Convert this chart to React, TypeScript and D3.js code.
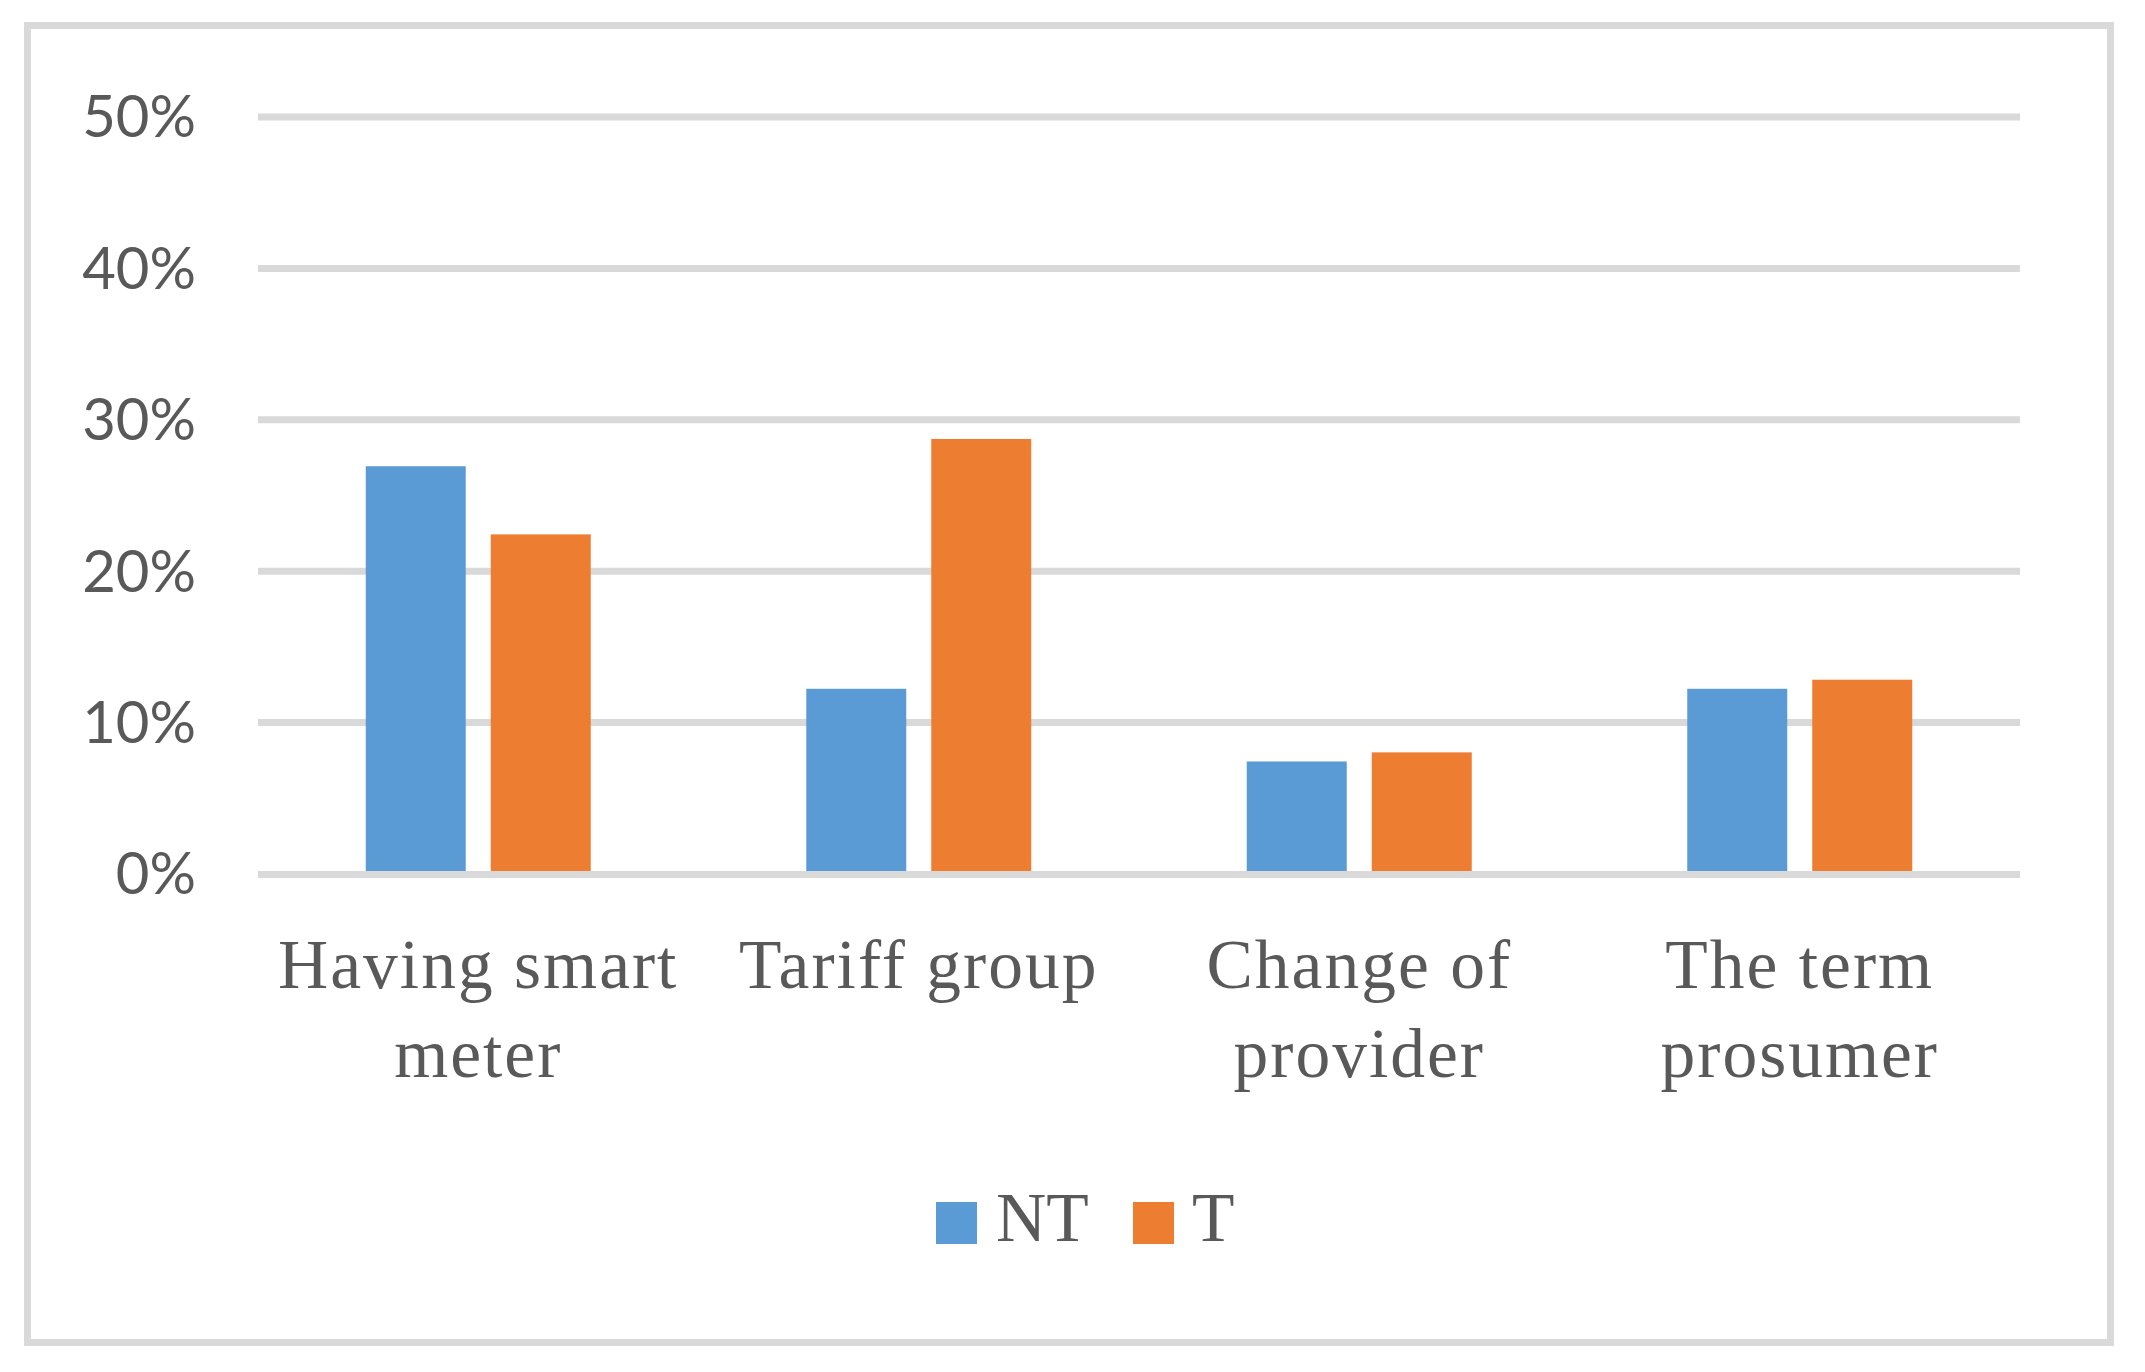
import { useRef, useEffect } from 'react';
import * as d3 from 'd3';

const categories = ['Having smart meter', 'Tariff group', 'Change of provider', 'The term prosumer'];
const categoryLines = [['Having smart', 'meter'], ['Tariff group'], ['Change of', 'provider'], ['The term', 'prosumer']];
const seriesNames = ['NT', 'T'];
const ntValues = [26.9, 12.2, 7.4, 12.2];
const tValues = [22.4, 28.7, 8.0, 12.8];
const yTicks = [0, 10, 20, 30, 40, 50];
const colors = ['#5b9bd5', '#ed7d31'];

const WIDTH = 2145;
const HEIGHT = 1372;

export default function App() {
  const svgRef = useRef<SVGSVGElement>(null);

  useEffect(() => {
    if (!svgRef.current) return;
    const svg = d3.select(svgRef.current);
    svg.selectAll('*').remove();

    const textColor = '#595959';
    const gridColor = '#d9d9d9';
    const plotLeft = 258;
    const plotRight = 2020;

    // chart frame
    svg.append('rect')
      .attr('x', 27.5)
      .attr('y', 25.5)
      .attr('width', 2083)
      .attr('height', 1317)
      .attr('fill', '#ffffff')
      .attr('stroke', gridColor)
      .attr('stroke-width', 7);

    // Scales
    const x0 = d3.scaleBand<string>()
      .domain(categories)
      .range([plotLeft, plotRight]);

    const groupInner = 225;
    const x1 = d3.scaleBand<string>()
      .domain(seriesNames)
      .range([(x0.bandwidth() - groupInner) / 2, (x0.bandwidth() + groupInner) / 2])
      .paddingInner(0.2);

    const yScale = d3.scaleLinear()
      .domain([0, 50])
      .range([873.5, 116.5]);

    // Grid
    const yGrid = d3.axisLeft(yScale)
      .tickValues(yTicks.filter(t => t > 0))
      .tickSize(-(plotRight - plotLeft))
      .tickFormat(() => '');

    svg.append('g')
      .attr('transform', `translate(${plotLeft},0)`)
      .call(yGrid)
      .call(g => g.select('.domain').remove())
      .call(g => g.selectAll('line').attr('stroke', gridColor).attr('stroke-width', 7));

    // Bars
    const series = [ntValues, tValues];
    categories.forEach((cat, i) => {
      seriesNames.forEach((s, j) => {
        const v = series[j][i];
        svg.append('rect')
          .attr('x', (x0(cat) ?? 0) + (x1(s) ?? 0))
          .attr('y', yScale(v))
          .attr('width', x1.bandwidth())
          .attr('height', yScale(0) - yScale(v))
          .attr('fill', colors[j]);
      });
    });

    // zero line on top of the bars
    svg.append('line')
      .attr('x1', plotLeft)
      .attr('x2', plotRight)
      .attr('y1', yScale(0) + 1)
      .attr('y2', yScale(0) + 1)
      .attr('stroke', gridColor)
      .attr('stroke-width', 7);

    // Y tick labels
    svg.append('g')
      .selectAll('text')
      .data(yTicks)
      .join('text')
      .attr('x', 196)
      .attr('y', d => yScale(d))
      .attr('dy', '0.36em')
      .attr('text-anchor', 'end')
      .attr('font-family', 'Lato, "Open Sans", sans-serif')
      .attr('font-size', 58)
      .attr('fill', textColor)
      .text(d => `${d}%`);

    // Category labels
    categories.forEach((cat, i) => {
      const cx = (x0(cat) ?? 0) + x0.bandwidth() / 2;
      const t = svg.append('text')
        .attr('text-anchor', 'middle')
        .attr('font-family', '"Liberation Serif", "DejaVu Serif", serif')
        .attr('font-size', 69.5)
        .attr('letter-spacing', 2)
        .attr('fill', textColor);
      categoryLines[i].forEach((line, k) => {
        t.append('tspan')
          .attr('x', cx)
          .attr('y', 988 + k * 89)
          .text(line);
      });
    });

    // Legend
    const legendItems = [
      { name: seriesNames[0], sx: 936, tx: 996 },
      { name: seriesNames[1], sx: 1133, tx: 1192 },
    ];
    legendItems.forEach((item, j) => {
      svg.append('rect')
        .attr('x', item.sx)
        .attr('y', 1202)
        .attr('width', 41)
        .attr('height', 42)
        .attr('fill', colors[j]);
      svg.append('text')
        .attr('x', item.tx)
        .attr('y', 1241)
        .attr('font-family', '"Liberation Serif", "DejaVu Serif", serif')
        .attr('font-size', 69.5)
        .attr('fill', textColor)
        .text(item.name);
    });
  }, []);

  return (
    <svg
      ref={svgRef}
      width={WIDTH}
      height={HEIGHT}
      style={{ position: 'absolute', left: 0, top: 0, background: '#ffffff' }}
    />
  );
}
